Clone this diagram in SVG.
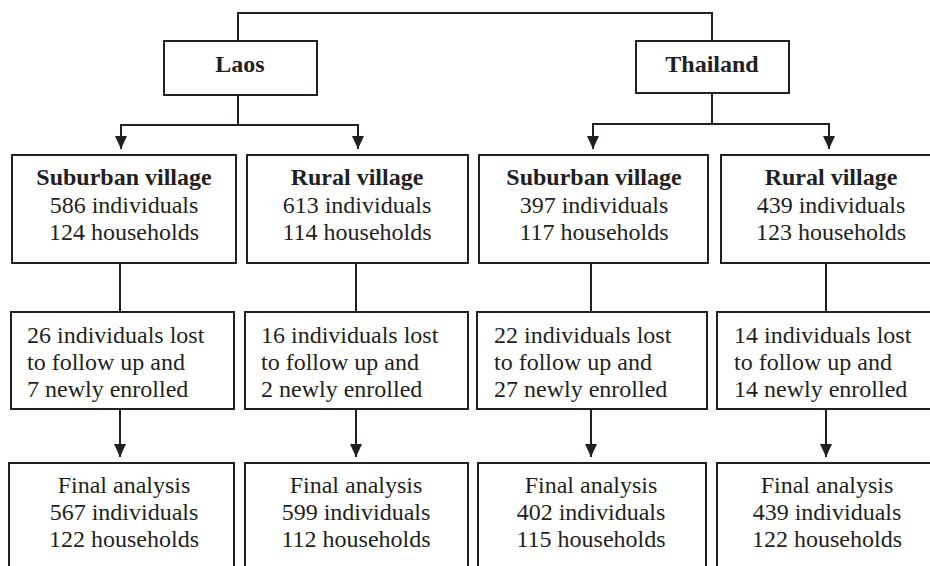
<svg xmlns="http://www.w3.org/2000/svg" width="930" height="566" viewBox="0 0 930 566">
<style>
.box{fill:#fff;stroke:#231f20;stroke-width:2}
.ln{fill:none;stroke:#231f20;stroke-width:2}
text{font-family:"Liberation Serif","Times New Roman",serif;font-size:24px;fill:#231f20}
.b{font-weight:bold}
.c{text-anchor:middle}
</style>
<defs>
<marker id="ah" viewBox="0 0 13 12" refX="13" refY="6" markerWidth="13" markerHeight="12" markerUnits="userSpaceOnUse" orient="auto">
<path d="M0,0 L13,6 L0,12 Z" fill="#231f20"/>
</marker>
</defs>
<rect width="930" height="566" fill="#fff"/>
<g id="connectors">
<path class="ln" d="M238,41 V13 H712 V41"/>
<path class="ln" d="M238,95 V125"/>
<path class="ln" d="M121,125 H358"/>
<path class="ln" d="M121,124 V149" marker-end="url(#ah)"/>
<path class="ln" d="M358,124 V149" marker-end="url(#ah)"/>
<path class="ln" d="M712,93 V124"/>
<path class="ln" d="M593,124 H829"/>
<path class="ln" d="M593,123 V149" marker-end="url(#ah)"/>
<path class="ln" d="M829,123 V149" marker-end="url(#ah)"/>
<path class="ln" d="M120,263 V312"/>
<path class="ln" d="M356,263 V312"/>
<path class="ln" d="M591,263 V312"/>
<path class="ln" d="M826,263 V312"/>
<path class="ln" d="M120,409 V457" marker-end="url(#ah)"/>
<path class="ln" d="M356,409 V457" marker-end="url(#ah)"/>
<path class="ln" d="M591,409 V457" marker-end="url(#ah)"/>
<path class="ln" d="M826,409 V457" marker-end="url(#ah)"/>
</g>
<g id="laos"><rect class="box" x="164" y="41" width="153" height="54"/><text class="b c" x="240" y="72">Laos</text></g>
<g id="thailand"><rect class="box" x="636" y="41" width="153" height="52"/><text class="b c" x="712" y="72">Thailand</text></g>
<g id="laos-suburban"><rect class="box" x="12" y="155" width="224" height="108"/>
<text class="c" x="124"><tspan class="b" x="124" y="185">Suburban village</tspan><tspan x="124" y="213">586 individuals</tspan><tspan x="124" y="240">124 households</tspan></text></g>
<g id="laos-rural"><rect class="box" x="247" y="155" width="221" height="108"/>
<text class="c" x="357"><tspan class="b" x="357" y="185">Rural village</tspan><tspan x="357" y="213">613 individuals</tspan><tspan x="357" y="240">114 households</tspan></text></g>
<g id="thai-suburban"><rect class="box" x="479" y="155" width="229" height="108"/>
<text class="c" x="594"><tspan class="b" x="594" y="185">Suburban village</tspan><tspan x="594" y="213">397 individuals</tspan><tspan x="594" y="240">117 households</tspan></text></g>
<g id="thai-rural"><rect class="box" x="721" y="155" width="220" height="108"/>
<text class="c" x="831"><tspan class="b" x="831" y="185">Rural village</tspan><tspan x="831" y="213">439 individuals</tspan><tspan x="831" y="240">123 households</tspan></text></g>
<g id="laos-suburban-loss"><rect class="box" x="11" y="312" width="223" height="97"/>
<text><tspan x="27" y="343">26 individuals lost</tspan><tspan x="27" y="370">to follow up and</tspan><tspan x="27" y="397">7 newly enrolled</tspan></text></g>
<g id="laos-rural-loss"><rect class="box" x="245" y="312" width="223" height="97"/>
<text><tspan x="261" y="343">16 individuals lost</tspan><tspan x="261" y="370">to follow up and</tspan><tspan x="261" y="397">2 newly enrolled</tspan></text></g>
<g id="thai-suburban-loss"><rect class="box" x="477" y="312" width="230" height="97"/>
<text><tspan x="494" y="343">22 individuals lost</tspan><tspan x="494" y="370">to follow up and</tspan><tspan x="494" y="397">27 newly enrolled</tspan></text></g>
<g id="thai-rural-loss"><rect class="box" x="717" y="312" width="224" height="97"/>
<text><tspan x="734" y="343">14 individuals lost</tspan><tspan x="734" y="370">to follow up and</tspan><tspan x="734" y="397">14 newly enrolled</tspan></text></g>
<g id="laos-suburban-final"><rect class="box" x="9" y="463" width="225" height="110"/>
<text class="c"><tspan x="124" y="493">Final analysis</tspan><tspan x="124" y="520">567 individuals</tspan><tspan x="124" y="547">122 households</tspan></text></g>
<g id="laos-rural-final"><rect class="box" x="245" y="463" width="223" height="110"/>
<text class="c"><tspan x="356" y="493">Final analysis</tspan><tspan x="356" y="520">599 individuals</tspan><tspan x="356" y="547">112 households</tspan></text></g>
<g id="thai-suburban-final"><rect class="box" x="478" y="463" width="228" height="110"/>
<text class="c"><tspan x="591" y="493">Final analysis</tspan><tspan x="591" y="520">402 individuals</tspan><tspan x="591" y="547">115 households</tspan></text></g>
<g id="thai-rural-final"><rect class="box" x="717" y="463" width="224" height="110"/>
<text class="c"><tspan x="827" y="493">Final analysis</tspan><tspan x="827" y="520">439 individuals</tspan><tspan x="827" y="547">122 households</tspan></text></g>
</svg>
